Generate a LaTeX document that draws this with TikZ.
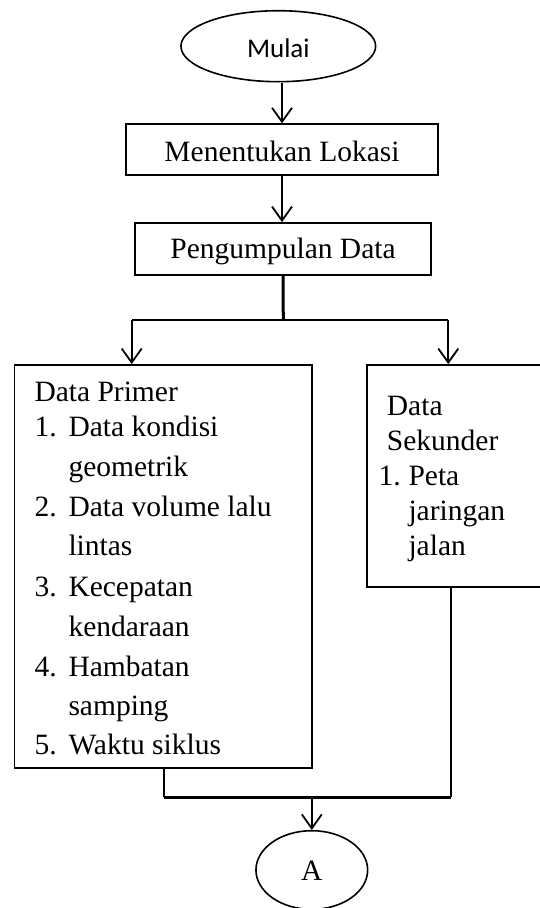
\documentclass[tikz,border=0pt]{standalone}
\usepackage{fontspec}
\setmainfont{Liberation Serif}
\newfontfamily\calib{Carlito}
\usetikzlibrary{shapes.geometric,arrows.meta}
\tikzset{
  box/.style={draw, line width=1.8pt, rectangle, inner sep=0pt},
  oval/.style={draw, line width=1.6pt, ellipse, inner sep=0pt},
  txt/.style={anchor=base west, inner sep=0pt, font=\fontsize{29.5}{35}\selectfont},
  conn/.style={line width=1.8pt},
  arr/.style={line width=1.8pt, -{Straight Barb[length=14pt,width=20pt]}},
}
\begin{document}
\begin{tikzpicture}[x=1pt,y=-1pt]
\useasboundingbox (0,0) rectangle (540,908);
\clip (0,0) rectangle (540,908);
\fill[white] (0,0) rectangle (540,908);
% start
\node[oval, minimum width=194.7pt, minimum height=71pt, text height=22pt, text depth=0pt,
      font=\calib\fontsize{27}{30}\selectfont] (m) at (278.3,46.2) {Mulai};
% boxes
\node[box, minimum width=312pt, minimum height=50.5pt, text height=24pt, text depth=0pt,
      font=\fontsize{29.5}{35}\selectfont] (b1) at (282,149.5) {Menentukan Lokasi};
\node[box, minimum width=296pt, minimum height=52pt, text height=24pt, text depth=5.4pt,
      font=\fontsize{29.5}{35}\selectfont] (b2) at (283,249) {Pengumpulan Data};
\node[box, minimum width=297.2pt, minimum height=402.7pt] (lb) at (163.1,566.35) {};
\node[box, minimum width=193.3pt, minimum height=222pt] (rb) at (463.35,476) {};
% end connector
\node[oval, minimum width=111.7pt, minimum height=78.6pt, text height=20pt, text depth=0pt,
      font=\fontsize{29.5}{35}\selectfont] (a) at (311.8,870) {A};
% left box text
\node[txt] (p0) at (34.3,401.7) {Data Primer};
\node[txt] (n1) at (34.3,436.7) {1.};
\node[txt] (p1) at (68.3,436.7) {Data kondisi};
\node[txt] (p1b) at (68.3,476) {geometrik};
\node[txt] (n2) at (34.3,516) {2.};
\node[txt] (p2) at (68.3,516) {Data volume lalu};
\node[txt] (p2b) at (68.3,555) {lintas};
\node[txt] (n3) at (34.3,596) {3.};
\node[txt] (p3) at (68.3,596) {Kecepatan};
\node[txt] (p3b) at (68.3,636) {kendaraan};
\node[txt] (n4) at (34.3,676) {4.};
\node[txt] (p4) at (68.3,676) {Hambatan};
\node[txt] (p4b) at (68.3,715) {samping};
\node[txt] (n5) at (34.3,754) {5.};
\node[txt] (p5) at (68.3,754) {Waktu siklus};
% right box text
\node[txt] (s0) at (386.7,415) {Data};
\node[txt] (s0b) at (386.7,450) {Sekunder};
\node[txt] (sn1) at (378.3,485) {1.};
\node[txt] (s1) at (408.3,485) {Peta};
\node[txt] (s1b) at (408.3,520) {jaringan};
\node[txt] (s1c) at (408.3,555) {jalan};
% connectors
\draw[arr] (m.south -| b1.north) -- (b1.north);
\draw[arr] (b1.south) -- (b1.south |- b2.north);
\coordinate (j) at (283.3,320);
\coordinate (jl) at (131.7,320);
\coordinate (jr) at (448.3,320);
\draw[line width=3pt] (b2.south) -- (j);
\draw[conn] (jl) -- (jr);
\draw[arr] (jl) -- (jl |- lb.north);
\draw[arr] (jr) -- (jr |- rb.north);
\coordinate (bl) at (164.3,797.3);
\coordinate (br) at (450.7,797.3);
\coordinate (bm) at (311.8,797.3);
\draw[conn] (lb.south -| bl) -- (bl);
\draw[conn] (rb.south -| br) -- (br);
\draw[line width=3pt] (bl) -- (br);
\draw[arr] (bm) -- (a.north);
\end{tikzpicture}
\end{document}
